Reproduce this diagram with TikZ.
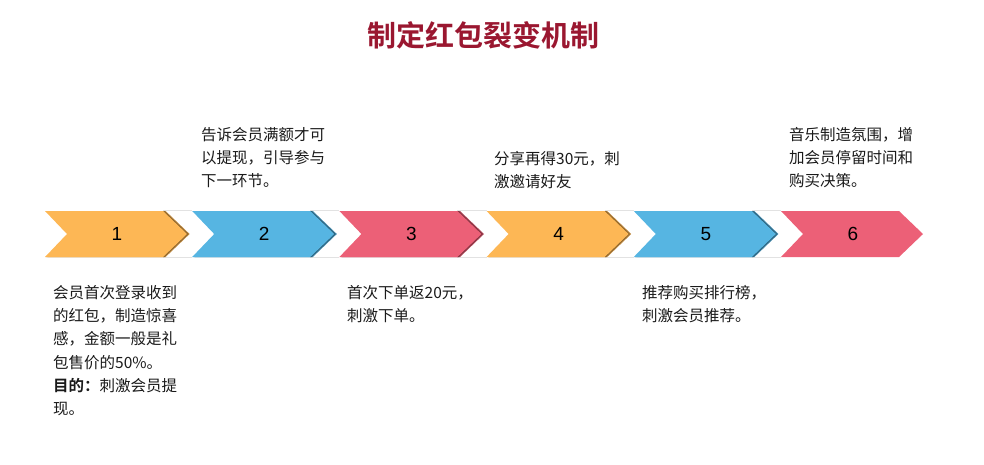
\documentclass[tikz,border=0pt]{standalone}
\usepackage{fontspec}
\setmainfont{Liberation Sans}
\newfontfamily\cjk[BoldFont={Noto Sans CJK SC Bold}]{Noto Sans CJK SC}
\definecolor{pkorange}{HTML}{FDB755}
\definecolor{pkblue}{HTML}{56B5E2}
\definecolor{pkrose}{HTML}{EC6077}
\definecolor{pktitle}{HTML}{9A1730}
\definecolor{pktext}{HTML}{1A1A1A}
\definecolor{gapline}{HTML}{E2E2E2}

\tikzset{
  title/.style={text=pktitle, font=\cjk\bfseries\fontsize{29}{29}\selectfont, inner sep=0},
  stepnum/.style={text=black, font=\fontsize{19}{19}\selectfont, inner sep=0},
  note/.style={text=pktext, font=\cjk\fontsize{15.5}{23.3}\selectfont,
    align=left, anchor=north west, inner sep=0}
}

\begin{document}
\begin{tikzpicture}[x=1pt, y=-1pt]

% Canvas
\useasboundingbox (0,0) rectangle (984,464);

% Title
\node[title] (title) at (483.5,35) {制定红包裂变机制};

% Chevrons: left edge 45, period 147.2
\foreach \i/\col in {0/pkorange,1/pkblue,2/pkrose,3/pkorange,4/pkblue,5/pkrose} {
  \pgfmathsetmacro{\L}{45+147.2*\i}
  \ifnum\i<5
    % white gap edges and soft dark rim at the tip
    \draw[gapline, line width=0.7pt] (\L+118,210.5) -- (\L+147.2,210.5);
    \draw[gapline, line width=0.7pt] (\L+118,257.5) -- (\L+147.2,257.5);
    \fill[\col!75!black] (\L+2.6,211) -- (\L+120.6,211) -- (\L+144.6,234)
      -- (\L+120.6,257) -- (\L+2.6,257) -- (\L+24.6,234) -- cycle;
    \fill[\col!55!black] (\L+1.4,211) -- (\L+119.4,211) -- (\L+143.4,234)
      -- (\L+119.4,257) -- (\L+1.4,257) -- (\L+23.4,234) -- cycle;
  \fi
  \fill[\col] (\L,211) -- (\L+118,211) -- (\L+142,234)
    -- (\L+118,257) -- (\L,257) -- (\L+22,234) -- cycle;
  \pgfmathtruncatemacro{\n}{\i+1}
  \node[stepnum] (num\n) at (\L+72,234) {\n};
}

% Notes below
\node[note] (note1) at (53,285) {会员首次登录收到\\的红包，制造惊喜\\感，金额一般是礼\\包售价的50\%。\\\textbf{目的：}刺激会员提\\现。};
\node[note] (note3) at (347,285) {首次下单返20元，\\刺激下单。};
\node[note] (note5) at (642,285) {推荐购买排行榜，\\刺激会员推荐。};

% Notes above
\node[note] (note2) at (201,127) {告诉会员满额才可\\以提现，引导参与\\下一环节。};
\node[note] (note4) at (494,151) {分享再得30元，刺\\激邀请好友};
\node[note] (note6) at (789,127) {音乐制造氛围，增\\加会员停留时间和\\购买决策。};

\end{tikzpicture}
\end{document}
